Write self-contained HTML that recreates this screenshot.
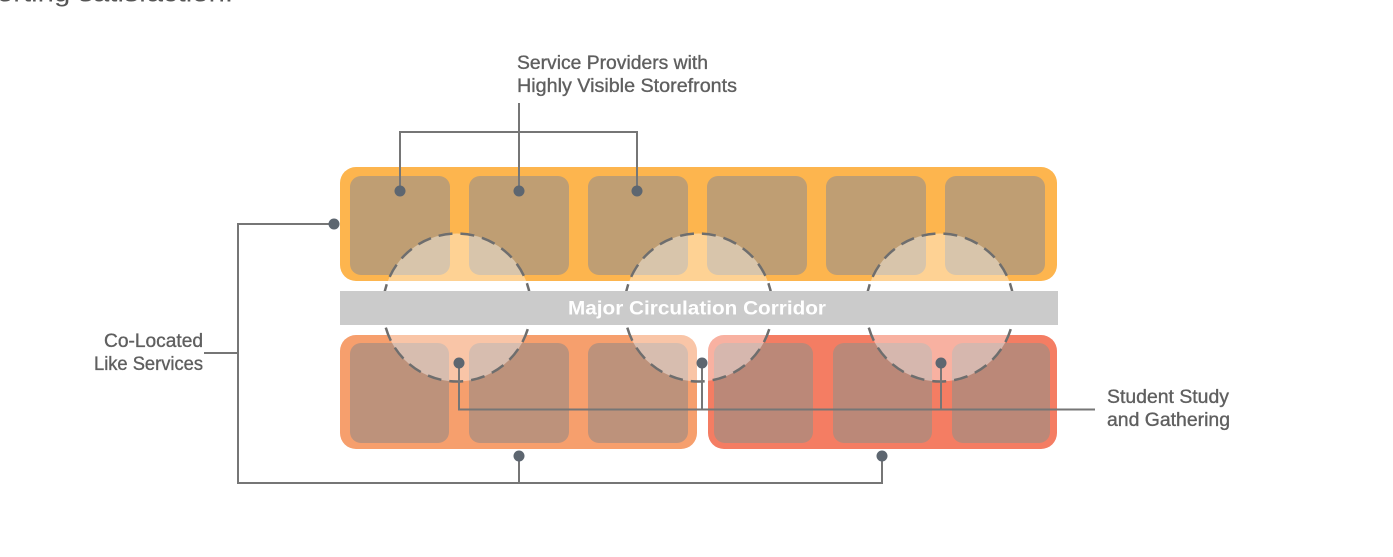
<!DOCTYPE html>
<html>
<head>
<meta charset="utf-8">
<style>
  html, body { margin: 0; padding: 0; background: #ffffff; }
  body { width: 1393px; height: 557px; overflow: hidden; }
  svg { display: block; }
  .lbl { font-family: "Liberation Sans", "DejaVu Sans", sans-serif; font-size: 19px; fill: #5f5f5f; stroke: #5f5f5f; stroke-width: 0.35; }
</style>
</head>
<body>
<svg width="1393" height="557" viewBox="0 0 1393 557" xmlns="http://www.w3.org/2000/svg">
  <!-- cut-off text at top -->
  <text x="-3" y="1.5" font-family="Liberation Sans, DejaVu Sans, sans-serif" font-size="24" fill="#555" textLength="236" lengthAdjust="spacingAndGlyphs">orting satisfaction.</text>

  <!-- Top band -->
  <rect x="340" y="167" width="717" height="114" rx="16" fill="#fdb54e"/>
  <g fill="#bf9e73">
    <rect x="350" y="176" width="100" height="99" rx="11"/>
    <rect x="469" y="176" width="100" height="99" rx="11"/>
    <rect x="588" y="176" width="100" height="99" rx="11"/>
    <rect x="707" y="176" width="100" height="99" rx="11"/>
    <rect x="826" y="176" width="100" height="99" rx="11"/>
    <rect x="945" y="176" width="100" height="99" rx="11"/>
  </g>

  <!-- Bottom left band -->
  <rect x="340" y="335" width="357" height="114" rx="16" fill="#f69f6d"/>
  <g fill="#bd927b">
    <rect x="350" y="343" width="99" height="100" rx="11"/>
    <rect x="469" y="343" width="100" height="100" rx="11"/>
    <rect x="588" y="343" width="100" height="100" rx="11"/>
  </g>

  <!-- Bottom right band -->
  <rect x="708" y="335" width="349" height="114" rx="16" fill="#f47d63"/>
  <g fill="#bb8878">
    <rect x="714" y="343" width="99" height="100" rx="11"/>
    <rect x="833" y="343" width="99" height="100" rx="11"/>
    <rect x="952" y="343" width="98" height="100" rx="11"/>
  </g>

  <!-- Circles -->
  <g fill="#ffffff" fill-opacity="0.4" stroke="#6e6e6e" stroke-width="2.5" stroke-dasharray="14 8">
    <circle cx="457" cy="307.5" r="74"/>
    <circle cx="698.5" cy="307.5" r="74"/>
    <circle cx="940" cy="307.5" r="74"/>
  </g>

  <!-- Corridor -->
  <rect x="340" y="291" width="718" height="34" fill="#cbcbcb"/>
  <text x="568" y="314.5" font-family="Liberation Sans, DejaVu Sans, sans-serif" font-size="19" font-weight="bold" fill="#ffffff" textLength="258" lengthAdjust="spacingAndGlyphs">Major Circulation Corridor</text>

  <!-- Connectors -->
  <g stroke="#767676" stroke-width="2" fill="none">
    <polyline points="400,191 400,132 637,132 637,191"/>
    <line x1="519" y1="103" x2="519" y2="191"/>
    <polyline points="334,224 238,224 238,483 882,483 882,456"/>
    <line x1="519" y1="456" x2="519" y2="483"/>
    <line x1="204" y1="353" x2="238" y2="353"/>
    <polyline points="459,363 459,409.5 1095,409.5"/>
    <line x1="702" y1="363" x2="702" y2="409.5"/>
    <line x1="941" y1="363" x2="941" y2="409.5"/>
  </g>
  <g fill="#5d6670">
    <circle cx="400" cy="191" r="5.5"/>
    <circle cx="519" cy="191" r="5.5"/>
    <circle cx="637" cy="191" r="5.5"/>
    <circle cx="334" cy="224" r="5.5"/>
    <circle cx="519" cy="456" r="5.5"/>
    <circle cx="882" cy="456" r="5.5"/>
    <circle cx="459" cy="363" r="5.5"/>
    <circle cx="702" cy="363" r="5.5"/>
    <circle cx="941" cy="363" r="5.5"/>
  </g>

  <!-- Labels -->
  <text class="lbl" x="517" y="69" textLength="191" lengthAdjust="spacingAndGlyphs">Service Providers with</text>
  <text class="lbl" x="517" y="92" textLength="220" lengthAdjust="spacingAndGlyphs">Highly Visible Storefronts</text>

  <text class="lbl" x="104" y="347" textLength="99" lengthAdjust="spacingAndGlyphs">Co-Located</text>
  <text class="lbl" x="94" y="370" textLength="109" lengthAdjust="spacingAndGlyphs">Like Services</text>

  <text class="lbl" x="1107" y="403" textLength="122" lengthAdjust="spacingAndGlyphs">Student Study</text>
  <text class="lbl" x="1107" y="426" textLength="123" lengthAdjust="spacingAndGlyphs">and Gathering</text>
</svg>
</body>
</html>
